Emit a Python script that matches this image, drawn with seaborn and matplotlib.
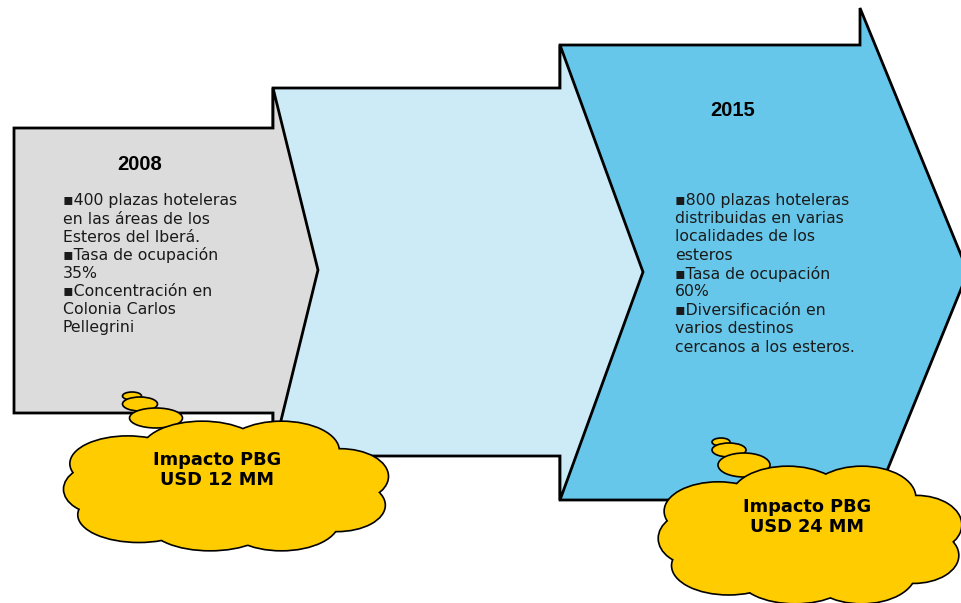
import matplotlib.pyplot as plt
from matplotlib.patches import Polygon, Ellipse
import seaborn as sns

# Content
years = ["2008", "2015"]
lines_2008 = ["\u25aa400 plazas hoteleras", "en las áreas de los", "Esteros del Iberá.",
              "\u25aaTasa de ocupación", "35%", "\u25aaConcentración en",
              "Colonia Carlos", "Pellegrini"]
lines_2015 = ["\u25aa800 plazas hoteleras", "distribuidas en varias", "localidades de los",
              "esteros", "\u25aaTasa de ocupación", "60%", "\u25aaDiversificación en",
              "varios destinos", "cercanos a los esteros."]
impact_usd_mm = [12, 24]

# Colours
grey = "#dcdcdc"
light_blue = "#cdebf7"
dark_blue = "#66c7ea"
yellow = "#ffcc00"

sns.set_theme(style="white")
plt.rcParams["font.family"] = ["DejaVu Sans"]
plt.rcParams["text.color"] = "black"

fig = plt.figure(figsize=(9.61, 6.03), dpi=100)
ax = fig.add_axes([0, 0, 1, 1])
ax.set_xlim(0, 961)
ax.set_ylim(603, 0)
ax.axis("off")


def block_arrow(x0, x1, top, bot, head_top, head_bot, tip, color, z):
    pts = [(x0, top), (x1, top), (x1, head_top), tip,
           (x1, head_bot), (x1, bot), (x0, bot)]
    ax.add_patch(Polygon(pts, closed=True, fc=color, ec="black", lw=2.0,
                         joinstyle="miter", zorder=z))


# later arrows first, so each head sits on top of the next body
block_arrow(560, 860, 45, 500, 8, 537, (968, 272), dark_blue, 1)
block_arrow(273, 560, 88, 456, 45, 500, (643, 272), light_blue, 2)
block_arrow(14, 273, 128, 413, 88, 453, (318, 270), grey, 3)

# cloud made of overlapping bumps (normalised to [-1, 1])
bumps = [(-0.62, -0.35, 0.36, 0.42), (-0.15, -0.55, 0.38, 0.45),
         (0.35, -0.55, 0.36, 0.45), (0.72, -0.15, 0.30, 0.42),
         (0.70, 0.30, 0.30, 0.40), (0.35, 0.55, 0.36, 0.45),
         (-0.10, 0.60, 0.38, 0.40), (-0.55, 0.45, 0.38, 0.42),
         (-0.78, 0.05, 0.24, 0.38), (0.0, 0.0, 0.80, 0.70)]


def cloud(cx, cy, w, h, z):
    a, b = w / 2, h / 2
    for dx, dy, rx, ry in bumps:
        ax.add_patch(Ellipse((cx + dx * a, cy + dy * b), 2 * rx * a, 2 * ry * b,
                             fc=yellow, ec="black", lw=2.4, zorder=z))
    for dx, dy, rx, ry in bumps:
        ax.add_patch(Ellipse((cx + dx * a, cy + dy * b), 2 * rx * a, 2 * ry * b,
                             fc=yellow, ec="none", zorder=z + 0.1))


def bubbles(specs, z):
    for cx, cy, w, h in specs:
        ax.add_patch(Ellipse((cx, cy), w, h, fc=yellow, ec="black", lw=1.2, zorder=z))


bubbles([(132, 396, 19, 8), (140, 404, 35, 14), (156, 418, 53, 20)], 5)
bubbles([(721, 442, 18, 8), (729, 450, 34, 14), (744, 465, 52, 24)], 5)
cloud(226, 486, 317, 128, 6)
cloud(810, 535, 296, 136, 6)

# Year headings
ax.text(140, 165, years[0], fontsize=14.5, fontweight="bold", ha="center", va="center",
        family="Liberation Sans", zorder=10)
ax.text(733, 110, years[1], fontsize=14.5, fontweight="bold", ha="center", va="center",
        family="Liberation Sans", zorder=10)

# Bullet text
for i, t in enumerate(lines_2008):
    ax.text(63, 201 + i * 18.1, t, fontsize=11.3, ha="left", va="center",
            color="#1a1a1a", zorder=10)
for i, t in enumerate(lines_2015):
    ax.text(675, 200 + i * 18.4, t, fontsize=11.3, ha="left", va="center",
            color="#1a1a1a", zorder=10)

# Cloud labels
ax.text(217, 470, f"Impacto PBG\nUSD {impact_usd_mm[0]} MM", fontsize=12.8,
        fontweight="bold", ha="center", va="center", linespacing=1.15, zorder=10)
ax.text(807, 517, f"Impacto PBG\nUSD {impact_usd_mm[1]} MM", fontsize=12.8,
        fontweight="bold", ha="center", va="center", linespacing=1.15, zorder=10)

fig.savefig("out.png", dpi=100)
